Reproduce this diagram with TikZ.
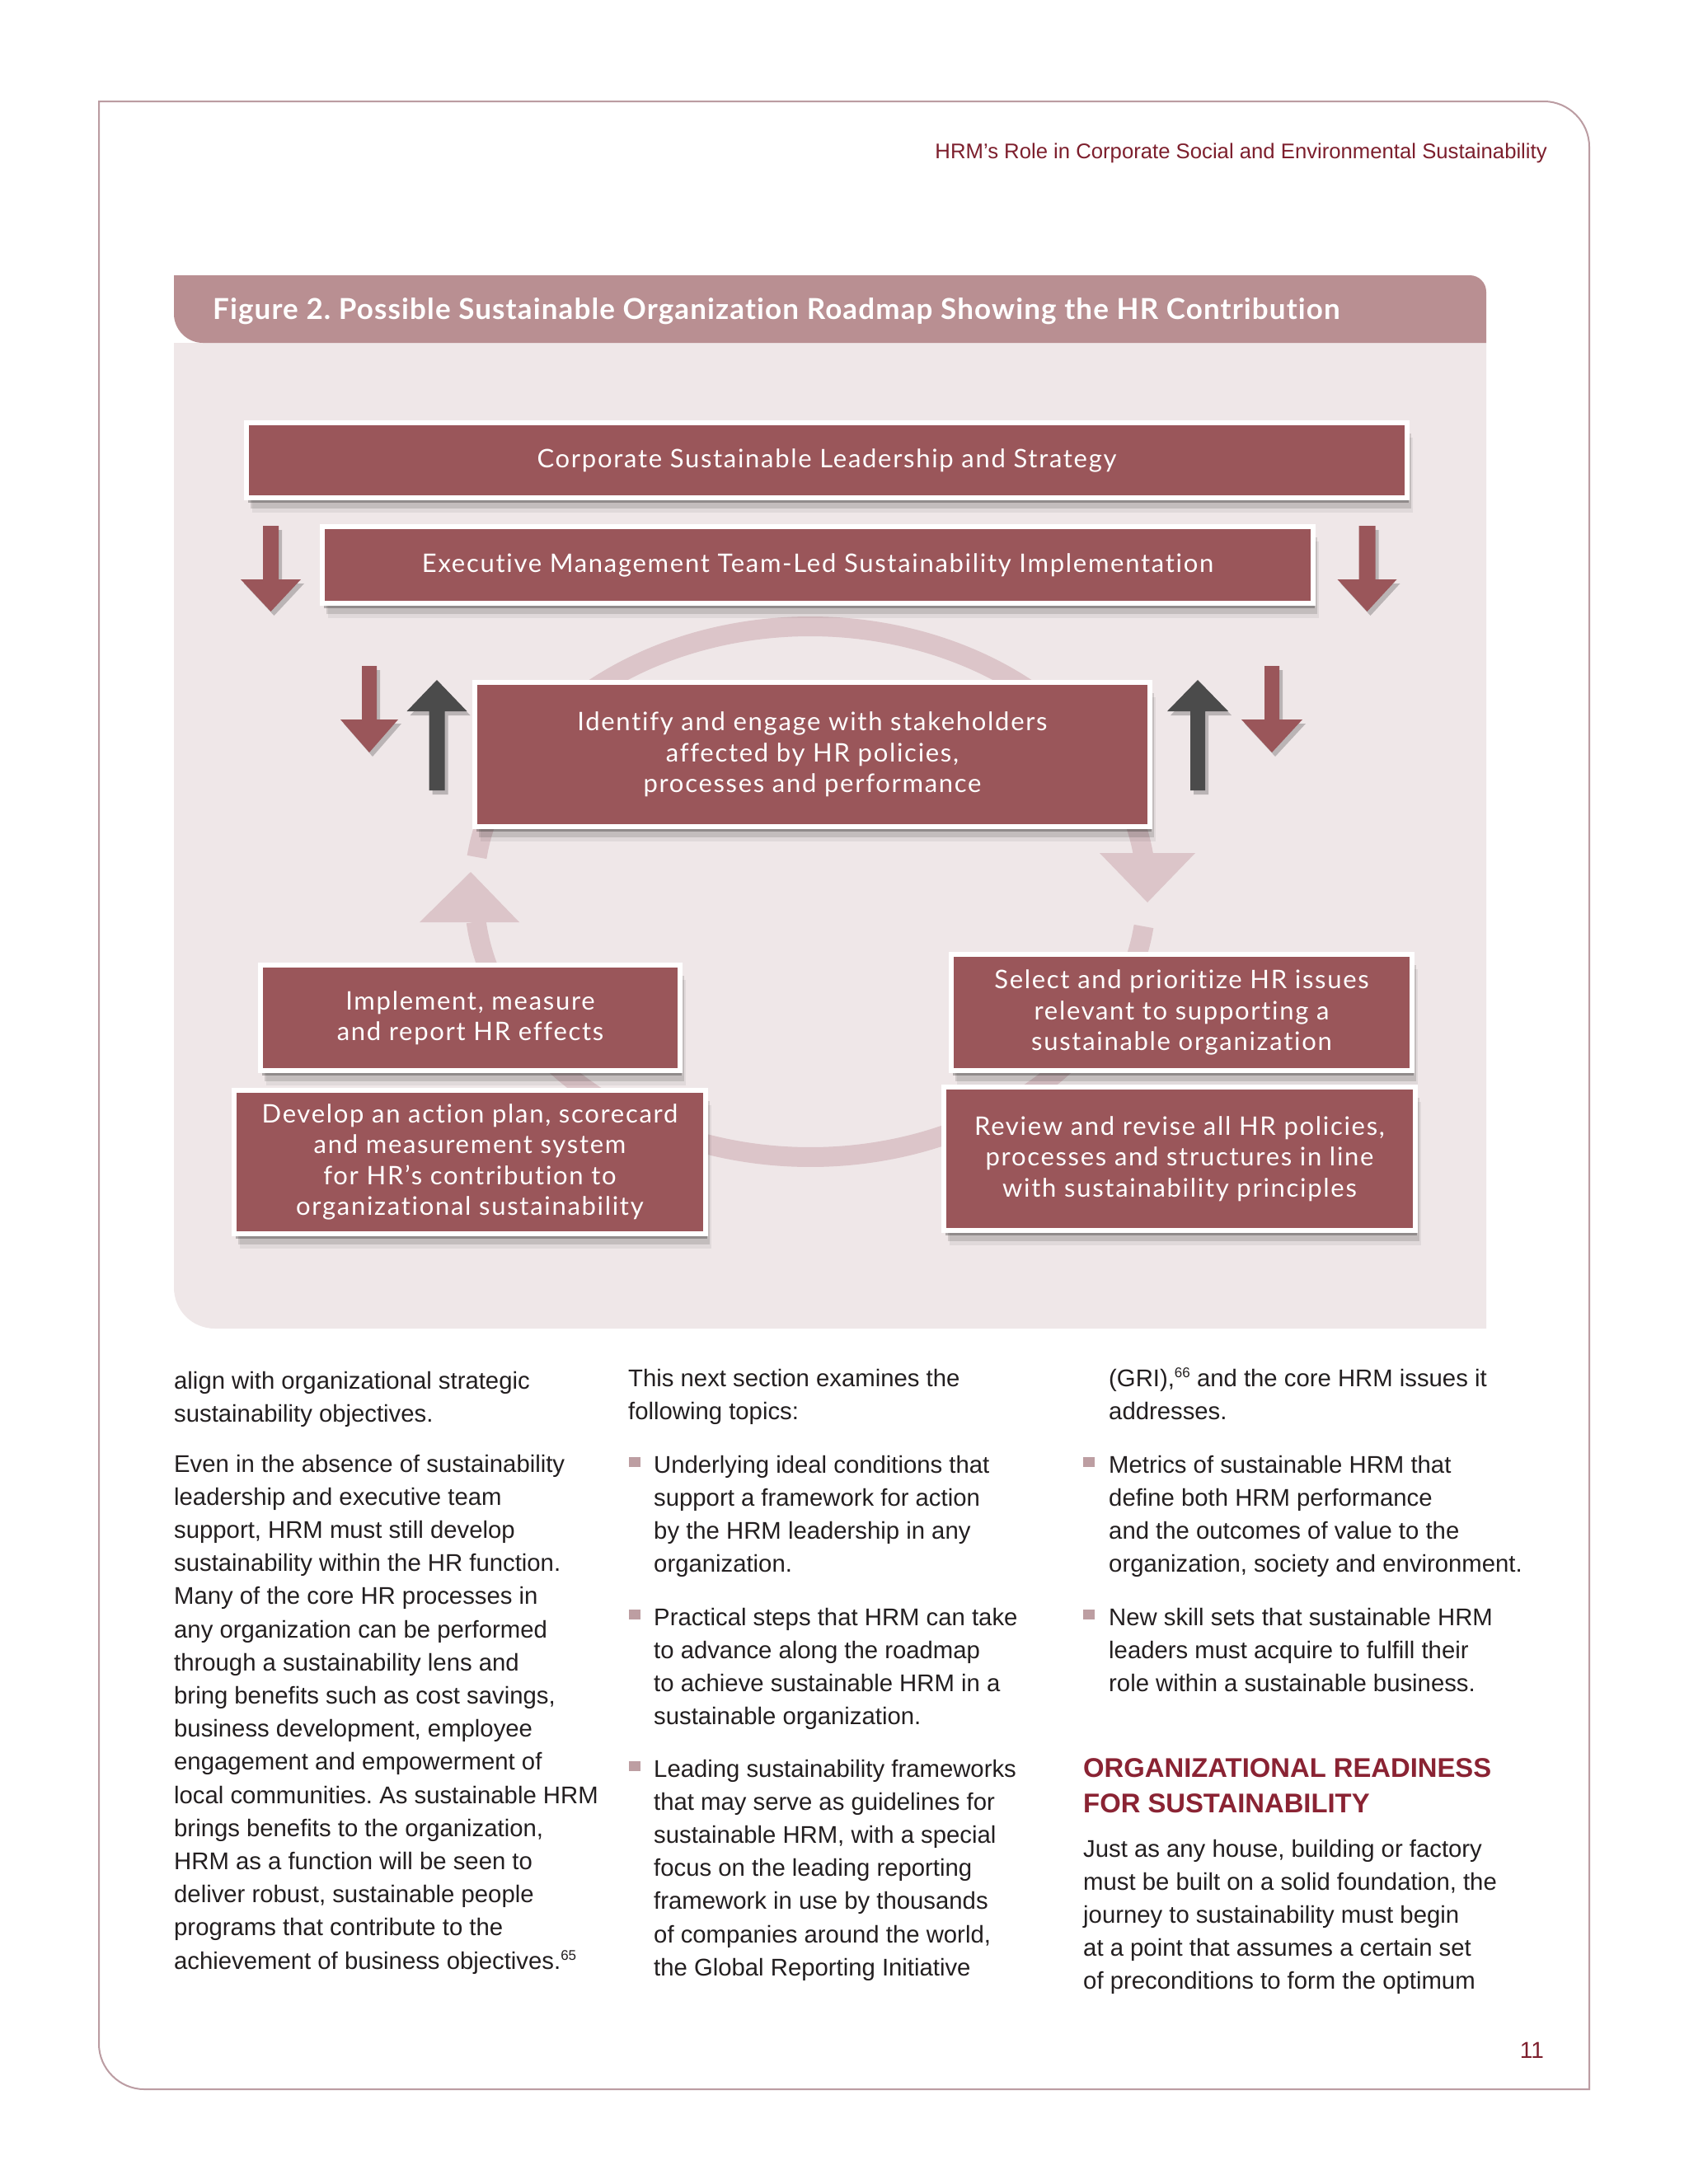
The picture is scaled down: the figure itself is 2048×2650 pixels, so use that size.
\documentclass[tikz,border=0pt]{standalone}
\usepackage{fontspec}
\setmainfont{Liberation Sans}
\newfontfamily\boxfont{Lato}[LetterSpace=5.5, Ligatures=NoCommon]
\newfontfamily\titlefont{Lato}[LetterSpace=3.2, Ligatures=NoCommon]
\usetikzlibrary{shadows}
\definecolor{boxred}{HTML}{9A565A}
\definecolor{titlebar}{HTML}{B98F92}
\definecolor{panel}{HTML}{EFE7E8}
\definecolor{ringcol}{HTML}{DCC5C9}
\definecolor{darkarrow}{HTML}{4B4B4B}
\definecolor{framecol}{HTML}{BB9CA2}
\definecolor{hdred}{HTML}{7D1F2D}
\definecolor{headred}{HTML}{8A2333}
\definecolor{bodytext}{HTML}{231F20}
\definecolor{bulletcol}{HTML}{BD9EA2}
\frenchspacing
\newcommand\tlines[2][40.2pt]{\vtop{\baselineskip=#1\lineskiplimit=-100pt\lineskip=0pt\let\\\cr\halign{##\hfil\cr#2\crcr}}}
\newcommand\supnum[1]{\raise11pt\hbox{\fontsize{17}{17}\selectfont #1}}
\newcommand\vshaftarrow[7]{\fill[#7, arrowshadow] ({#1-#5},#2) -- ({#1+#5},#2) -- ({#1+#5},#3) -- ({#1+#6},#3) -- (#1,#4) -- ({#1-#6},#3) -- ({#1-#5},#3) -- cycle;}
\tikzset{
  boxshadow/.style={drop shadow={shadow xshift=2pt, shadow yshift=-6pt, opacity=0.26, fill=black},
                    drop shadow={shadow xshift=5pt, shadow yshift=-13pt, opacity=0.13, fill=black},
                    drop shadow={shadow xshift=7pt, shadow yshift=-18pt, opacity=0.06, fill=black}},
  arrowshadow/.style={drop shadow={shadow xshift=4pt, shadow yshift=-5pt, opacity=0.22, fill=black}},
  redbox/.style={boxshadow, fill=boxred, draw=white, line width=6pt, text=white, inner sep=0pt,
                 align=center, font=\boxfont\fontsize{31}{37.3}\selectfont},
  body/.style={anchor=base west, inner sep=0pt, text=bodytext, font=\fontsize{29.3}{40.2}\selectfont},
  bulletsq/.style={fill=bulletcol}
}
\begin{document}
\begin{tikzpicture}[x=1pt, y=-1pt]
\useasboundingbox (0,0) rectangle (2048,2650);
\fill[white] (0,0) rectangle (2048,2650);
% page frame
\draw[framecol, line width=2pt] (120,123) -- (1873,123) .. controls (1903,123) and (1928,148) .. (1928,178)
  -- (1928,2535) -- (175,2535) .. controls (145,2535) and (120,2510) .. (120,2480) -- cycle;
% running header
\node[anchor=base east, inner sep=0pt, text=hdred, font=\fontsize{25.7}{30}\selectfont] (hdr) at (1877,192)
  {HRM’s Role in Corporate Social and Environmental Sustainability};
% panel and title bar
\fill[panel] (211,416) -- (1803,416) -- (1803,1612) -- (261,1612) .. controls (233,1612) and (211,1590) .. (211,1562) -- cycle;
\fill[titlebar] (211,334) -- (1783,334) .. controls (1794,334) and (1803,343) .. (1803,354) -- (1803,416)
  -- (246,416) .. controls (227,416) and (211,400) .. (211,381) -- cycle;
\node[anchor=base west, inner sep=0pt, text=white, font=\titlefont\bfseries\fontsize{35}{38}\selectfont] (title) at (258,387)
  {Figure 2. Possible Sustainable Organization Roadmap Showing the HR Contribution};
% ring
\draw[ringcol, line width=24pt] plot[domain=187.5:352, samples=90, smooth] ({983+408*cos(\x)},{1082+322*sin(\x)});
\draw[ringcol, line width=24pt] plot[domain=7.5:173.5, samples=90, smooth] ({983+408*cos(\x)},{1082+322*sin(\x)});
\fill[ringcol] (1334,1035) -- (1450,1035) -- (1392,1095) -- cycle;
\fill[ringcol] (509,1119) -- (630,1119) -- (571,1058) -- cycle;
% arrows
\vshaftarrow{328.5}{638}{703}{742}{9.5}{36.5}{boxred}
\vshaftarrow{1658.5}{638}{703}{742}{10}{36}{boxred}
\vshaftarrow{448}{808}{873}{913}{9}{35}{boxred}
\vshaftarrow{1543}{808}{873}{913}{9}{37}{boxred}
\vshaftarrow{530}{959}{863}{825}{9.5}{36.5}{darkarrow}
\vshaftarrow{1453}{959}{863}{825}{9}{37}{darkarrow}
% boxes
\node[redbox, minimum width=1408pt, minimum height=91pt] (b1) at (1003,558.5) {Corporate Sustainable Leadership and Strategy};
\node[redbox, minimum width=1202pt, minimum height=93pt] (b2) at (992,685.5) {Executive Management Team-Led Sustainability Implementation};
\node[redbox, minimum width=819pt, minimum height=175pt] (b3) at (985.5,915.5) {Identify and engage with stakeholders\\affected by HR policies,\\processes and performance};
\node[redbox, minimum width=509pt, minimum height=128pt] (b4) at (570.5,1235) {Implement, measure\\and report HR effects};
\node[redbox, minimum width=572pt, minimum height=174pt] (b5) at (570,1410) {Develop an action plan, scorecard\\and measurement system\\for HR’s contribution to\\organizational sustainability};
\node[redbox, minimum width=559pt, minimum height=141pt] (b6) at (1433.5,1228.5) {Select and prioritize HR issues\\relevant to supporting a\\sustainable organization};
\node[redbox, minimum width=572pt, minimum height=174pt] (b7) at (1431,1406) {Review and revise all HR policies,\\processes and structures in line\\with sustainability principles};
% column 1
\node[body] (c1a) at (211,1685) {\tlines{align with organizational strategic\\sustainability objectives.}};
\node[body] (c1b) at (211,1786) {\tlines{Even in the absence of sustainability\\leadership and executive team\\support, HRM must still develop\\sustainability within the HR function.\\Many of the core HR processes in\\any organization can be performed\\through a sustainability lens and\\bring benefits such as cost savings,\\business development, employee\\engagement and empowerment of\\local communities. As sustainable HRM\\brings benefits to the organization,\\HRM as a function will be seen to\\deliver robust, sustainable people\\programs that contribute to the\\achievement of business objectives.\supnum{65}}};
% column 2
\node[body] (c2a) at (762,1682) {\tlines{This next section examines the\\following topics:}};
\fill[bulletsq] (763,1768) rectangle (777,1780);
\node[body] (c2b) at (793,1787) {\tlines{Underlying ideal conditions that\\support a framework for action\\by the HRM leadership in any\\organization.}};
\fill[bulletsq] (763,1953) rectangle (777,1965);
\node[body] (c2c) at (793,1972) {\tlines{Practical steps that HRM can take\\to advance along the roadmap\\to achieve sustainable HRM in a\\sustainable organization.}};
\fill[bulletsq] (763,2137) rectangle (777,2149);
\node[body] (c2d) at (793,2156) {\tlines{Leading sustainability frameworks\\that may serve as guidelines for\\sustainable HRM, with a special\\focus on the leading reporting\\framework in use by thousands\\of companies around the world,\\the Global Reporting Initiative}};
% column 3
\node[body] (c3a) at (1345,1682) {\tlines{(GRI),\supnum{66} and the core HRM issues it\\addresses.}};
\fill[bulletsq] (1314,1768) rectangle (1328,1780);
\node[body] (c3b) at (1345,1787) {\tlines{Metrics of sustainable HRM that\\define both HRM performance\\and the outcomes of value to the\\organization, society and environment.}};
\fill[bulletsq] (1314,1953) rectangle (1328,1965);
\node[body] (c3c) at (1345,1972) {\tlines{New skill sets that sustainable HRM\\leaders must acquire to fulfill their\\role within a sustainable business.}};
\node[body, text=headred, font=\bfseries\fontsize{32.8}{43}\selectfont] (c3h) at (1314,2156) {\tlines[43pt]{ORGANIZATIONAL READINESS\\FOR SUSTAINABILITY}};
\node[body] (c3d) at (1314,2253) {\tlines{Just as any house, building or factory\\must be built on a solid foundation, the\\journey to sustainability must begin\\at a point that assumes a certain set\\of preconditions to form the optimum}};
% page number
\node[anchor=base east, inner sep=0pt, text=hdred, font=\fontsize{28}{30}\selectfont] (pg) at (1873,2497) {11};
\end{tikzpicture}
\end{document}
